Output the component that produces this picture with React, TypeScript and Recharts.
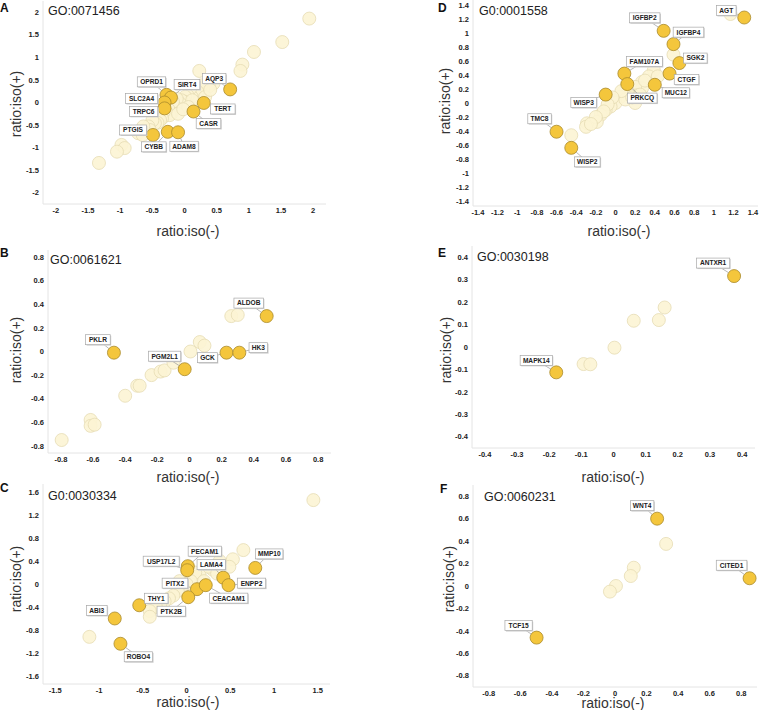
import { ScatterChart, Scatter, XAxis, YAxis } from 'recharts'

type Pt = { x: number; y: number }
type Gene = { gene: string; x: number; y: number }

const toPts = (rows: number[][]): Pt[] => rows.map(([x, y]) => ({ x, y }))

// ---- panel A
const goA = 'GO:0071456'
const xTicksA = [-2, -1.5, -1, -0.5, 0, 0.5, 1, 1.5, 2]
const yTicksA = [-2, -1.5, -1, -0.5, 0, 0.5, 1, 1.5, 2]
const otherA = toPts([
  [1.94, 1.86], [1.52, 1.34], [1.08, 1.12], [0.9, 0.84], [0.87, 0.7], [0.23, 0.7],
  [0.45, 0.42], [0.38, 0.36], [0.29, 0.31], [0.26, 0.38], [0.16, 0.28], [0.2, 0.24],
  [0.11, 0.13], [0.09, 0.31], [0.05, 0.15], [0.01, 0.13], [0.0, 0.02], [-0.05, 0.05],
  [-0.07, -0.02], [-0.12, 0.08], [-0.15, -0.09], [-0.18, 0.02], [-0.2, -0.24],
  [-0.25, -0.15], [-0.23, -0.28], [-0.32, -0.2], [-0.35, -0.35], [-0.38, -0.39],
  [-0.42, -0.45], [-0.46, -0.46], [-0.5, -0.4], [-0.56, -0.53], [-0.54, -0.61],
  [-0.64, -0.53], [-0.72, -0.68], [-0.65, -0.72], [-0.98, -0.94], [-0.93, -1.01],
  [-1.05, -1.09], [-1.33, -1.34], [0.12, 0.05], [0.32, 0.12], [0.4, 0.28],
  [-0.1, -0.25], [0.06, -0.1], [-0.02, -0.15],
])
const genesA: Gene[] = [
  { gene: 'OPRD1', x: -0.28, y: 0.17 },
  { gene: 'SIRT4', x: -0.21, y: 0.11 },
  { gene: 'SLC2A4', x: -0.31, y: 0.0 },
  { gene: 'TRPC6', x: -0.31, y: -0.13 },
  { gene: 'AQP3', x: 0.71, y: 0.29 },
  { gene: 'TERT', x: 0.3, y: -0.01 },
  { gene: 'CASR', x: 0.14, y: -0.2 },
  { gene: 'PTGIS', x: -0.49, y: -0.72 },
  { gene: 'CYBB', x: -0.26, y: -0.65 },
  { gene: 'ADAM8', x: -0.1, y: -0.66 },
]
const labelPosA: Record<string, [number, number]> = {
  OPRD1: [-15, -13], SIRT4: [16, -13], SLC2A4: [-23, -4], TRPC6: [-21, 3],
  AQP3: [-16, -11], TERT: [19, 6], CASR: [15, 12], PTGIS: [-20, -5],
  CYBB: [-14, 15], ADAM8: [6, 14],
}

// ---- panel D
const goD = 'G0:0001558'
const ticksD = [-1.4, -1.2, -1, -0.8, -0.6, -0.4, -0.2, 0, 0.2, 0.4, 0.6, 0.8, 1, 1.2, 1.4]
const otherD = toPts([
  [1.17, 1.27], [0.59, 0.69], [0.39, 0.47], [0.34, 0.38], [0.43, 0.38], [0.27, 0.3],
  [0.27, 0.21], [0.2, 0.23], [0.22, 0.11], [0.2, 0.0], [0.13, 0.16], [0.05, 0.09],
  [0.0, 0.0], [-0.05, -0.05], [-0.1, -0.1], [-0.15, -0.17], [-0.19, -0.27],
  [-0.29, -0.29], [-0.3, -0.34], [-0.45, -0.46], [0.1, 0.05], [0.17, 0.08],
  [0.06, 0.17], [-0.03, 0.08], [-0.08, -0.02], [-0.12, -0.12], [-0.2, -0.2],
  [-0.25, -0.3], [0.3, 0.32], [0.25, 0.12],
])
const genesD: Gene[] = [
  { gene: 'AGT', x: 1.31, y: 1.22 },
  { gene: 'IGFBP2', x: 0.49, y: 1.03 },
  { gene: 'IGFBP4', x: 0.59, y: 0.84 },
  { gene: 'SGK2', x: 0.65, y: 0.57 },
  { gene: 'CTGF', x: 0.55, y: 0.42 },
  { gene: 'FAM107A', x: 0.09, y: 0.42 },
  { gene: 'PRKCQ', x: 0.12, y: 0.27 },
  { gene: 'MUC12', x: 0.4, y: 0.26 },
  { gene: 'WISP3', x: -0.1, y: 0.12 },
  { gene: 'TMC8', x: -0.6, y: -0.41 },
  { gene: 'WISP2', x: -0.45, y: -0.64 },
]
const labelPosD: Record<string, [number, number]> = {
  AGT: [-18, -7], IGFBP2: [-19, -13], IGFBP4: [15, -12], SGK2: [16, -5],
  CTGF: [17, 6], FAM107A: [20, -12], PRKCQ: [15, 14], MUC12: [21, 8],
  WISP3: [-22, 8], TMC8: [-17, -13], WISP2: [16, 14],
}

// ---- panel B
const goB = 'GO:0061621'
const ticksB = [-0.8, -0.6, -0.4, -0.2, 0, 0.2, 0.4, 0.6, 0.8]
const otherB = toPts([
  [-0.795, -0.75], [-0.615, -0.58], [-0.615, -0.63], [-0.59, -0.62], [-0.4, -0.375],
  [-0.325, -0.29], [-0.31, -0.29], [-0.236, -0.2], [-0.18, -0.17], [-0.155, -0.16],
  [-0.1, -0.095], [0.006, 0.0], [0.064, 0.08], [0.093, 0.05], [0.26, 0.3], [0.3, 0.31],
])
const genesB: Gene[] = [
  { gene: 'PKLR', x: -0.47, y: -0.01 },
  { gene: 'PGM2L1', x: -0.03, y: -0.15 },
  { gene: 'GCK', x: 0.23, y: -0.01 },
  { gene: 'HK3', x: 0.31, y: -0.01 },
  { gene: 'ALDOB', x: 0.48, y: 0.3 },
]
const labelPosB: Record<string, [number, number]> = {
  PKLR: [-16, -13], PGM2L1: [-20, -13], GCK: [-19, 5], HK3: [19, -5], ALDOB: [-18, -13],
}

// ---- panel E
const goE = 'GO:0030198'
const ticksE = [-0.4, -0.3, -0.2, -0.1, 0, 0.1, 0.2, 0.3, 0.4]
const otherE = toPts([
  [-0.093, -0.076], [-0.072, -0.077], [0.003, -0.003], [0.063, 0.117], [0.141, 0.12], [0.159, 0.176],
])
const genesE: Gene[] = [
  { gene: 'ANTXR1', x: 0.375, y: 0.316 },
  { gene: 'MAPK14', x: -0.178, y: -0.113 },
]
const labelPosE: Record<string, [number, number]> = {
  ANTXR1: [-21, -13], MAPK14: [-20, -12],
}

// ---- panel C
const goC = 'G0:0030334'
const xTicksC = [-1.5, -1, -0.5, 0, 0.5, 1, 1.5]
const yTicksC = [-1.6, -1.2, -0.8, -0.4, 0, 0.4, 0.8, 1.2, 1.6]
const otherC = toPts([
  [1.45, 1.46], [0.65, 0.59], [0.53, 0.43], [0.49, 0.3], [0.38, 0.4], [0.3, 0.25],
  [0.25, 0.3], [0.15, 0.15], [0.1, 0.2], [0.05, 0.05], [0.0, 0.0], [-0.05, -0.05],
  [-0.1, -0.12], [-0.15, -0.2], [-0.2, -0.25], [-0.25, -0.3], [-0.3, -0.35],
  [-0.35, -0.4], [-0.42, -0.47], [-0.42, -0.57], [-1.11, -0.92], [0.35, 0.18],
  [0.2, 0.05], [-0.08, 0.05],
])
const genesC: Gene[] = [
  { gene: 'PECAM1', x: 0.015, y: 0.31 },
  { gene: 'USP17L2', x: 0.008, y: 0.24 },
  { gene: 'LAMA4', x: 0.42, y: 0.11 },
  { gene: 'MMP10', x: 0.786, y: 0.28 },
  { gene: 'ENPP2', x: 0.48, y: -0.02 },
  { gene: 'PITX2', x: 0.12, y: -0.09 },
  { gene: 'CEACAM1', x: 0.22, y: -0.02 },
  { gene: 'THY1', x: -0.54, y: -0.37 },
  { gene: 'PTK2B', x: 0.02, y: -0.23 },
  { gene: 'ABI3', x: -0.82, y: -0.6 },
  { gene: 'ROBO4', x: -0.755, y: -1.04 },
]
const labelPosC: Record<string, [number, number]> = {
  PECAM1: [17, -15], USP17L2: [-26, -9], LAMA4: [-12, -13], MMP10: [14, -14],
  ENPP2: [23, -2], PITX2: [-22, -6], CEACAM1: [23, 13], THY1: [17, -7],
  PTK2B: [-17, 14], ABI3: [-18, -8], ROBO4: [18, 13],
}

// ---- panel F
const goF = 'GO:0060231'
const ticksF = [-0.8, -0.6, -0.4, -0.2, 0, 0.2, 0.4, 0.6, 0.8]
const otherF = toPts([
  [0.324, 0.375], [0.119, 0.163], [0.1, 0.089], [0.006, 0.0], [-0.032, -0.05],
])
const genesF: Gene[] = [
  { gene: 'WNT4', x: 0.267, y: 0.6 },
  { gene: 'CITED1', x: 0.853, y: 0.069 },
  { gene: 'TCF15', x: -0.497, y: -0.46 },
]
const labelPosF: Record<string, [number, number]> = {
  WNT4: [-15, -13], CITED1: [-18, -13], TCF15: [-18, -12],
}

const R = 6.5
const FONT = '"Liberation Sans", Arial, sans-serif'
const YW = 40
const TOP = 10

const faintDot = (p: any) => (
  <circle cx={p.cx} cy={p.cy} r={R} fill="#fcf4d4" fillOpacity={0.9} stroke="#e6dcb4" strokeWidth={0.8} />
)
const goldDot = (p: any) => (
  <circle cx={p.cx} cy={p.cy} r={R} fill="#f4c63c" stroke="#a98a2c" strokeWidth={0.8} />
)

const textWidth = (s: string) =>
  s.split('').reduce((w, c) => w + (/[0-9]/.test(c) ? 3.8 : c === 'I' ? 2.2 : 4.9), 0)

const labelShape = (offsets: Record<string, [number, number]>) => (p: any) => {
  const { cx, cy, payload } = p
  const [dx, dy] = offsets[payload.gene] || [0, -14]
  const bx = cx + dx
  const by = cy + dy
  const w = textWidth(payload.gene) + 5
  const h = 10
  const len = Math.hypot(dx, dy) || 1
  return (
    <g>
      <line x1={cx + (dx / len) * R} y1={cy + (dy / len) * R} x2={bx} y2={by} stroke="#9a9a9a" strokeWidth={0.7} />
      <rect x={bx - w / 2 + 1} y={by - h / 2 + 1} width={w} height={h} fill="#d4d4d4" />
      <rect x={bx - w / 2} y={by - h / 2} width={w} height={h} fill="#fff" stroke="#a8a8a8" strokeWidth={0.7} />
      <text x={bx} y={by + 2.4} textAnchor="middle" fontSize={6.6} fontWeight={700} fill="#222" fontFamily={FONT}>
        {payload.gene}
      </text>
    </g>
  )
}

const tickStyle = { fontSize: 7.5, fontWeight: 700, fill: '#222', fontFamily: FONT }

const panels = [
  { letter: 'A', go: goA, other: otherA, genes: genesA, lp: labelPosA, xt: xTicksA, yt: yTicksA,
    x0: 43, y0: 1, w: 283, h: 203, xd: [-2.2, 2.2], yd: [-2.25, 2.25],
    letterPos: [0, 1], goPos: [48, 4], xTitle: [188, 231], yTitle: [16, 104] },
  { letter: 'D', go: goD, other: otherD, genes: genesD, lp: labelPosD, xt: ticksD, yt: ticksD,
    x0: 473, y0: 0, w: 285, h: 206, xd: [-1.45, 1.45], yd: [-1.47, 1.47],
    letterPos: [438, 1], goPos: [479, 4], xTitle: [619, 231], yTitle: [445, 101] },
  { letter: 'B', go: goB, other: otherB, genes: genesB, lp: labelPosB, xt: ticksB, yt: ticksB,
    x0: 48, y0: 250, w: 283, h: 203, xd: [-0.88, 0.88], yd: [-0.86, 0.86],
    letterPos: [0, 246], goPos: [50, 253], xTitle: [188, 477], yTitle: [16, 350] },
  { letter: 'E', go: goE, other: otherE, genes: genesE, lp: labelPosE, xt: ticksE, yt: ticksE,
    x0: 472, y0: 246, w: 283, h: 202, xd: [-0.44, 0.44], yd: [-0.45, 0.45],
    letterPos: [438, 246], goPos: [477, 250], xTitle: [613, 477], yTitle: [446, 350] },
  { letter: 'C', go: goC, other: otherC, genes: genesC, lp: labelPosC, xt: xTicksC, yt: yTicksC,
    x0: 43, y0: 484, w: 287, h: 200, xd: [-1.64, 1.64], yd: [-1.74, 1.74],
    letterPos: [0, 481], goPos: [48, 489], xTitle: [188, 702], yTitle: [16, 579] },
  { letter: 'F', go: goF, other: otherF, genes: genesF, lp: labelPosF, xt: ticksF, yt: ticksF,
    x0: 473, y0: 485, w: 284, h: 202, xd: [-0.9, 0.9], yd: [-0.9, 0.9],
    letterPos: [440, 482], goPos: [484, 490], xTitle: [613, 703], yTitle: [449, 579] },
]

function Panel({ cfg }: { cfg: (typeof panels)[number] }) {
  const txt = (extra: any) => ({ position: 'absolute' as const, fontFamily: FONT, whiteSpace: 'nowrap' as const, ...extra })
  return (
    <>
      <div style={{ position: 'absolute', left: cfg.x0 - YW, top: cfg.y0 - TOP }}>
        <ScatterChart width={YW + cfg.w + 10} height={TOP + cfg.h + 20} margin={{ top: TOP, right: 10, bottom: 0, left: 0 }}>
          <XAxis
            type="number"
            dataKey="x"
            domain={cfg.xd}
            ticks={cfg.xt}
            interval={0}
            height={20}
            tickLine={false}
            tickSize={2}
            tickMargin={2}
            axisLine={{ stroke: '#e4e4e4' }}
            tick={tickStyle}
          />
          <YAxis
            type="number"
            dataKey="y"
            domain={cfg.yd}
            ticks={cfg.yt}
            interval={0}
            width={YW}
            tickLine={false}
            tickSize={2}
            tickMargin={2}
            axisLine={{ stroke: '#e4e4e4' }}
            tick={tickStyle}
          />
          <Scatter data={cfg.other} shape={faintDot} isAnimationActive={false} />
          <Scatter data={cfg.genes} shape={goldDot} isAnimationActive={false} />
          <Scatter data={cfg.genes} shape={labelShape(cfg.lp)} isAnimationActive={false} />
        </ScatterChart>
      </div>
      <div style={txt({ left: cfg.letterPos[0], top: cfg.letterPos[1], fontSize: 12, fontWeight: 700, color: '#111' })}>
        {cfg.letter}
      </div>
      <div style={txt({ left: cfg.goPos[0], top: cfg.goPos[1], fontSize: 12.5, color: '#222' })}>{cfg.go}</div>
      <div style={txt({ left: cfg.xTitle[0], top: cfg.xTitle[1], fontSize: 14, color: '#333', transform: 'translate(-50%, -50%)' })}>
        ratio:iso(-)
      </div>
      <div
        style={txt({
          left: cfg.yTitle[0],
          top: cfg.yTitle[1],
          fontSize: 14,
          color: '#333',
          transform: 'translate(-50%, -50%) rotate(-90deg)',
        })}
      >
        ratio:iso(+)
      </div>
    </>
  )
}

export default function App() {
  return (
    <div style={{ position: 'absolute', left: 0, top: 0, width: 759, height: 710, overflow: 'hidden', background: '#fff' }}>
      {panels.map((p) => (
        <Panel key={p.letter} cfg={p} />
      ))}
    </div>
  )
}
